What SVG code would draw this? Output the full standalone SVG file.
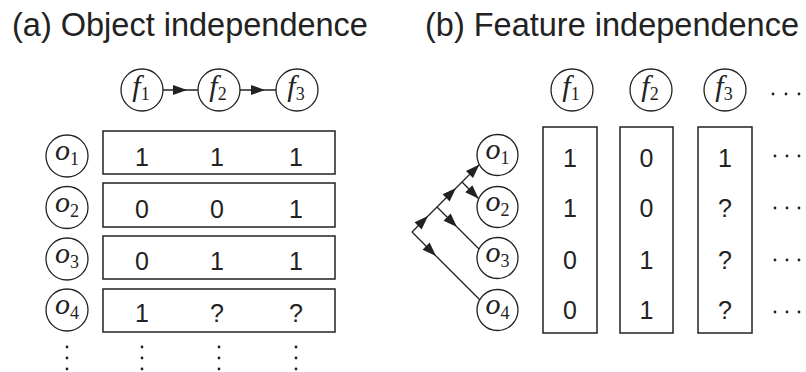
<svg xmlns="http://www.w3.org/2000/svg" width="806" height="372" viewBox="0 0 806 372">
<style>
.title{font-family:"Liberation Sans",Arial,sans-serif;font-size:32.5px;fill:#222}
.num{font-family:"Liberation Sans",Arial,sans-serif;font-size:25px;fill:#222;text-anchor:middle}
.math{font-family:"Liberation Serif","DejaVu Serif",serif;font-size:30px;fill:#222;text-anchor:middle}
.m{font-style:italic}
.sub{font-size:18px;font-style:normal}
.node{fill:#fff;stroke:#222;stroke-width:1.3}
.box{fill:#fff;stroke:#222;stroke-width:1.5}
.edge{fill:none;stroke:#222;stroke-width:1.3}
.dot{fill:#222}
</style>
<defs>
<marker id="ah" viewBox="-14 -5 14 10" refX="0" refY="0" markerWidth="14" markerHeight="10" markerUnits="userSpaceOnUse" orient="auto" overflow="visible">
<path d="M0,0 L-14,-5 L-14,5 Z" fill="#222"/>
</marker>
</defs>
<rect width="806" height="372" fill="#fff"/>
<g id="titles">
<text class="title" x="12" y="36">(a) Object independence</text>
<text class="title" x="425" y="36">(b) Feature independence</text>
</g>
<g id="connectors">
<path class="edge" d="M163,90 L187,90 L198,90" marker-mid="url(#ah)"/>
<path class="edge" d="M240,90 L265,90 L276,90" marker-mid="url(#ah)"/>
<path class="edge" d="M412,232 L428,216 L456,188 L479.4,164.6" marker-mid="url(#ah)" marker-end="url(#ah)"/>
<path class="edge" d="M437,207 L457,227 L479,249" marker-mid="url(#ah)"/>
<path class="edge" d="M462,182 L478.7,198.7" marker-end="url(#ah)"/>
<path class="edge" d="M412,232 L436,256 L479.75,299.75" marker-mid="url(#ah)"/>
</g>
<g id="a-f1"><circle class="node" cx="142" cy="90" r="21"/><text class="math" x="141" y="96"><tspan class="m">f</tspan><tspan class="sub" dy="4">1</tspan></text></g>
<g id="a-f2"><circle class="node" cx="219" cy="90" r="21"/><text class="math" x="218" y="96"><tspan class="m">f</tspan><tspan class="sub" dy="4">2</tspan></text></g>
<g id="a-f3"><circle class="node" cx="297" cy="90" r="21"/><text class="math" x="296" y="96"><tspan class="m">f</tspan><tspan class="sub" dy="4">3</tspan></text></g>
<g id="a-o1"><circle class="node" cx="67" cy="156" r="21"/><text class="math" x="67" y="160"><tspan class="m">o</tspan><tspan class="sub" dy="5">1</tspan></text></g>
<g id="a-o2"><circle class="node" cx="67" cy="207.5" r="21"/><text class="math" x="67" y="211.5"><tspan class="m">o</tspan><tspan class="sub" dy="5">2</tspan></text></g>
<g id="a-o3"><circle class="node" cx="67" cy="259" r="21"/><text class="math" x="67" y="263"><tspan class="m">o</tspan><tspan class="sub" dy="5">3</tspan></text></g>
<g id="a-o4"><circle class="node" cx="67" cy="310" r="21"/><text class="math" x="67" y="314"><tspan class="m">o</tspan><tspan class="sub" dy="5">4</tspan></text></g>
<g id="a-row1"><rect class="box" x="103" y="131" width="232" height="43"/><text class="num" x="142" y="166">1</text><text class="num" x="217" y="166">1</text><text class="num" x="296" y="166">1</text></g>
<g id="a-row2"><rect class="box" x="103" y="183" width="232" height="44"/><text class="num" x="142" y="218">0</text><text class="num" x="217" y="218">0</text><text class="num" x="296" y="218">1</text></g>
<g id="a-row3"><rect class="box" x="103" y="236" width="232" height="43"/><text class="num" x="142" y="270">0</text><text class="num" x="217" y="270">1</text><text class="num" x="296" y="270">1</text></g>
<g id="a-row4"><rect class="box" x="103" y="289" width="232" height="43"/><text class="num" x="142" y="322">1</text><text class="num" x="217" y="322">?</text><text class="num" x="296" y="322">?</text></g>
<g id="a-vdots">
<circle class="dot" cx="67" cy="347" r="1.4"/><circle class="dot" cx="67" cy="358" r="1.4"/><circle class="dot" cx="67" cy="369" r="1.4"/>
<circle class="dot" cx="142" cy="347" r="1.4"/><circle class="dot" cx="142" cy="358" r="1.4"/><circle class="dot" cx="142" cy="369" r="1.4"/>
<circle class="dot" cx="219" cy="347" r="1.4"/><circle class="dot" cx="219" cy="358" r="1.4"/><circle class="dot" cx="219" cy="369" r="1.4"/>
<circle class="dot" cx="296" cy="347" r="1.4"/><circle class="dot" cx="296" cy="358" r="1.4"/><circle class="dot" cx="296" cy="369" r="1.4"/>
</g>
<g id="b-f1"><circle class="node" cx="572" cy="90" r="21"/><text class="math" x="571" y="96"><tspan class="m">f</tspan><tspan class="sub" dy="4">1</tspan></text></g>
<g id="b-f2"><circle class="node" cx="651" cy="90" r="21"/><text class="math" x="650" y="96"><tspan class="m">f</tspan><tspan class="sub" dy="4">2</tspan></text></g>
<g id="b-f3"><circle class="node" cx="725" cy="90" r="21"/><text class="math" x="724" y="96"><tspan class="m">f</tspan><tspan class="sub" dy="4">3</tspan></text></g>
<g id="b-hdots"><circle class="dot" cx="773" cy="94" r="1.4"/><circle class="dot" cx="786" cy="94" r="1.4"/><circle class="dot" cx="799" cy="94" r="1.4"/></g>
<g id="b-o1"><circle class="node" cx="497.5" cy="155" r="20.5"/><text class="math" x="497.5" y="159"><tspan class="m">o</tspan><tspan class="sub" dy="5">1</tspan></text></g>
<g id="b-o2"><circle class="node" cx="497.5" cy="207" r="20.5"/><text class="math" x="497.5" y="211"><tspan class="m">o</tspan><tspan class="sub" dy="5">2</tspan></text></g>
<g id="b-o3"><circle class="node" cx="497.5" cy="258" r="20.5"/><text class="math" x="497.5" y="262"><tspan class="m">o</tspan><tspan class="sub" dy="5">3</tspan></text></g>
<g id="b-o4"><circle class="node" cx="497.5" cy="310" r="20.5"/><text class="math" x="497.5" y="314"><tspan class="m">o</tspan><tspan class="sub" dy="5">4</tspan></text></g>
<g id="b-col1"><rect class="box" x="543" y="127" width="54" height="206"/><text class="num" x="570" y="167">1</text><text class="num" x="570" y="217">1</text><text class="num" x="570" y="269">0</text><text class="num" x="570" y="319">0</text></g>
<g id="b-col2"><rect class="box" x="620" y="127" width="53" height="206"/><text class="num" x="646.5" y="167">0</text><text class="num" x="646.5" y="217">0</text><text class="num" x="646.5" y="269">1</text><text class="num" x="646.5" y="319">1</text></g>
<g id="b-col3"><rect class="box" x="698" y="127" width="54" height="206"/><text class="num" x="725" y="167">1</text><text class="num" x="725" y="217">?</text><text class="num" x="725" y="269">?</text><text class="num" x="725" y="319">?</text></g>
<g id="b-rowdots">
<circle class="dot" cx="775" cy="156" r="1.4"/><circle class="dot" cx="787" cy="156" r="1.4"/><circle class="dot" cx="799" cy="156" r="1.4"/>
<circle class="dot" cx="775" cy="208" r="1.4"/><circle class="dot" cx="787" cy="208" r="1.4"/><circle class="dot" cx="799" cy="208" r="1.4"/>
<circle class="dot" cx="775" cy="260" r="1.4"/><circle class="dot" cx="787" cy="260" r="1.4"/><circle class="dot" cx="799" cy="260" r="1.4"/>
<circle class="dot" cx="775" cy="312" r="1.4"/><circle class="dot" cx="787" cy="312" r="1.4"/><circle class="dot" cx="799" cy="312" r="1.4"/>
</g>
</svg>
